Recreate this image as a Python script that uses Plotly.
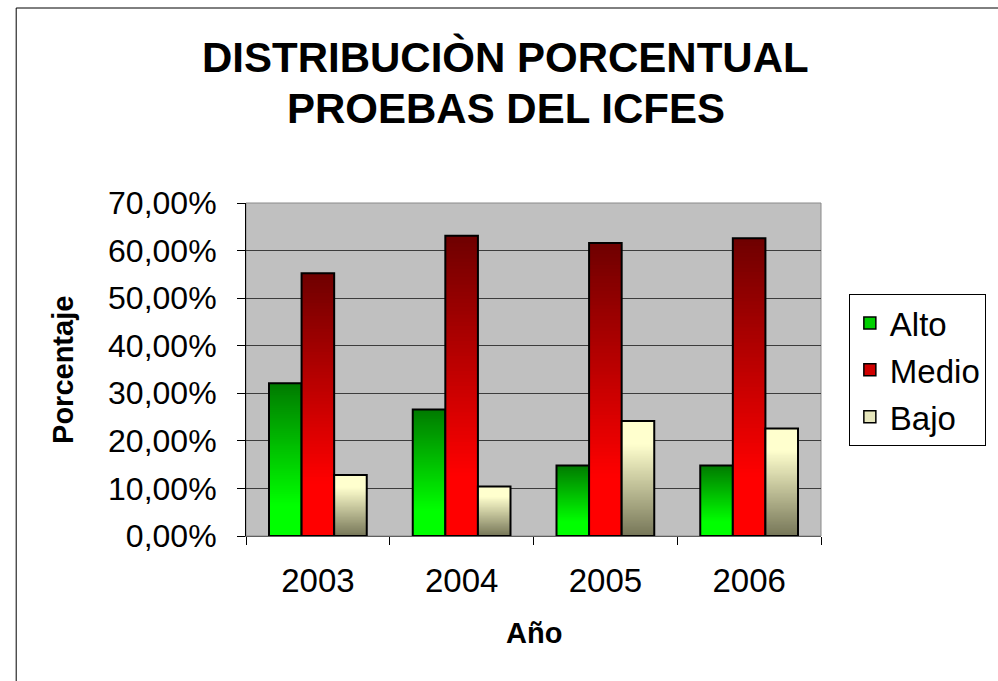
import plotly.graph_objects as go

# ---- data ----
years = ["2003", "2004", "2005", "2006"]
alto = [0.321, 0.266, 0.148, 0.148]
medio = [0.5525, 0.631, 0.616, 0.626]
bajo = [0.128, 0.104, 0.242, 0.226]
series_names = ["Alto", "Medio", "Bajo"]
y_ticks = [0, 0.1, 0.2, 0.3, 0.4, 0.5, 0.6, 0.7]

# ---- styles ----
# (bottom colour, top colour, flat part: 'bottom' or 'top')
grad = {
    "Alto": ((0, 255, 0), (0, 122, 0), "bottom"),
    "Medio": ((255, 0, 0), (110, 0, 0), "bottom"),
    "Bajo": ((118, 118, 88), (255, 255, 206), "top"),
}
legend_col = {"Alto": "#00d000", "Medio": "#d00000", "Bajo": "#e6e6bc"}
N = 80
FLAT = 0.2


def lerp(a, b, f):
    return tuple(int(round(a[k] + (b[k] - a[k]) * f)) for k in range(3))


def colour_at(name, t):
    bot, top, flat = grad[name]
    if flat == "bottom":
        f = 0.0 if t < FLAT else (t - FLAT) / (1 - FLAT)
    else:
        f = 1.0 if t > 1 - FLAT else t / (1 - FLAT)
    c = lerp(bot, top, f)
    return "rgb(%d,%d,%d)" % c


fig = go.Figure()
data = {"Alto": alto, "Medio": medio, "Bajo": bajo}

for name in series_names:
    vals = data[name]
    for i in range(N):
        t = (i + 0.5) / N
        base = [v * i / N for v in vals]
        height = [v - b for v, b in zip(vals, base)]
        fig.add_trace(go.Bar(
            x=years, y=height, base=base, offsetgroup=name,
            marker=dict(color=colour_at(name, t), line=dict(width=0)),
            showlegend=False, hoverinfo="skip",
        ))
    # outline
    fig.add_trace(go.Bar(
        x=years, y=vals, offsetgroup=name,
        marker=dict(color="rgba(0,0,0,0)", line=dict(color="black", width=2)),
        showlegend=False, hoverinfo="skip",
    ))
    # legend entry
    fig.add_trace(go.Bar(
        x=years, y=[None] * len(years), offsetgroup=name, name=name,
        legendgroup=name,
        marker=dict(color=legend_col[name], line=dict(color="black", width=1.5)),
        showlegend=True,
    ))

L, R, T, B = 246, 174, 203, 145
W, H = 998, 681
pw, ph = W - L - R, H - T - B


def px(x):
    return (x - L) / pw


def py(y):
    return (H - B - y) / ph


fig.update_layout(
    width=W, height=H,
    margin=dict(l=L, r=R, t=T, b=B, pad=0),
    paper_bgcolor="white", plot_bgcolor="#c0c0c0",
    barmode="group", bargap=0.32, bargroupgap=0,
    separators=",.",
    font=dict(family="Liberation Sans, Arial, sans-serif", color="black"),
    showlegend=True,
    legend=dict(
        x=px(852), y=py(294), xanchor="left", yanchor="top",
        bordercolor="black", borderwidth=1, bgcolor="white",
        font=dict(size=33), tracegroupgap=1,
        itemclick=False, itemdoubleclick=False,
    ),
    xaxis=dict(
        type="category", tickson="boundaries", ticks="outside", ticklen=8,
        tickcolor="black", showline=True, linecolor="#606060", linewidth=1,
        showgrid=False, tickfont=dict(size=33), ticklabelstandoff=15,
    ),
    yaxis=dict(
        range=[0, 0.7], tickvals=y_ticks, tickformat=".2%",
        ticks="outside", ticklen=8, tickcolor="black",
        showline=True, linecolor="black", linewidth=1,
        showgrid=True, gridcolor="#3c3c3c", gridwidth=1, zeroline=False,
        tickfont=dict(size=32), ticklabelstandoff=14,
    ),
    shapes=[
        dict(type="rect", xref="paper", yref="paper", x0=0, x1=1, y0=0, y1=1,
             line=dict(color="#8a8a8a", width=1), fillcolor="rgba(0,0,0,0)",
             layer="below"),
        dict(type="rect", xref="paper", yref="paper",
             x0=px(15), x1=px(1010), y0=py(8), y1=py(700),
             line=dict(color="black", width=1), fillcolor="rgba(0,0,0,0)"),
    ],
    annotations=[
        dict(text="<b>DISTRIBUCIÒN PORCENTUAL</b>", xref="paper", yref="paper",
             x=px(507), y=py(57), xanchor="center", yanchor="middle",
             showarrow=False, font=dict(size=42)),
        dict(text="<b>PROEBAS DEL ICFES</b>", xref="paper", yref="paper",
             x=px(507), y=py(108), xanchor="center", yanchor="middle",
             showarrow=False, font=dict(size=42)),
        dict(text="<b>Año</b>", xref="paper", yref="paper",
             x=px(536), y=py(633), xanchor="center", yanchor="middle",
             showarrow=False, font=dict(size=29)),
        dict(text="<b>Porcentaje</b>", xref="paper", yref="paper",
             x=px(62), y=py(370), xanchor="center", yanchor="middle",
             textangle=-90, showarrow=False, font=dict(size=29)),
    ],
)

fig.write_html("out.html",
               config={"displayModeBar": False},
               post_script="document.body.style.margin='0';document.body.style.padding='0';")
